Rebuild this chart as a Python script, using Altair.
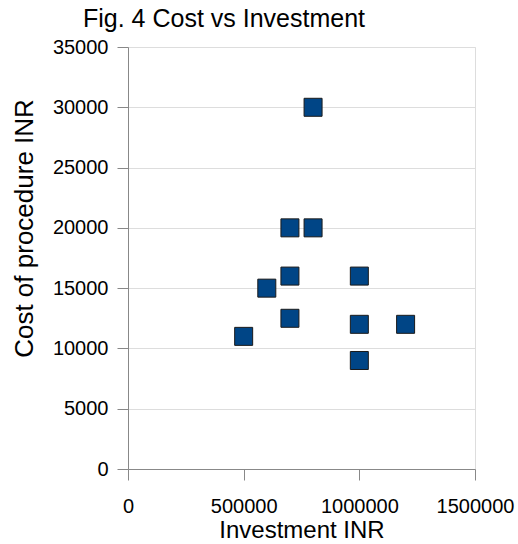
import altair as alt
import pandas as pd

# Investment (INR) and cost of procedure (INR) per facility
investment = [500000, 600000, 700000, 700000, 700000, 800000, 800000,
              1000000, 1000000, 1000000, 1200000]
cost = [11000, 15000, 20000, 16000, 12500, 30000, 20000,
        16000, 12000, 9000, 12000]

x_ticks = [0, 500000, 1000000, 1500000]
y_ticks = [0, 5000, 10000, 15000, 20000, 25000, 30000, 35000]

df = pd.DataFrame({"investment": investment, "cost": cost})

FONT = "Liberation Sans"
GRID = "#b3b3b3"

chart = (
    alt.Chart(df)
    .mark_point(shape="square", filled=True, size=324, fill="#004586",
                stroke="#1a1a1a", strokeWidth=1, opacity=1)
    .encode(
        x=alt.X("investment:Q",
                scale=alt.Scale(domain=[0, 1500000], nice=False),
                axis=alt.Axis(title="Investment INR", values=x_ticks,
                              format="d", grid=False, tickSize=11, labelPadding=16,
                              titlePadding=2, labelFontSize=20, titleFontSize=24,
                              titleFontWeight="normal", labelFlush=False,
                              labelOverlap=False)),
        y=alt.Y("cost:Q",
                scale=alt.Scale(domain=[0, 35000], nice=False),
                axis=alt.Axis(title="Cost of procedure INR", values=y_ticks,
                              format="d", grid=True, tickSize=11, labelPadding=9,
                              labelFontSize=20, titleFontSize=26,
                              titleFontWeight="normal", labelOverlap=False,
                              labelFlush=False,
                              titleX=-104, titleY=181, titleAlign="center",
                              titleBaseline="middle", titleAngle=-90)),
    )
    .properties(
        width=347,
        height=422,
        title=alt.TitleParams("Fig. 4 Cost vs Investment", anchor="start", frame="group",
                              dx=-45, dy=34, baseline="alphabetic", offset=19, fontSize=25,
                              font=FONT, fontWeight="normal", color="#000000"),
        autosize=alt.AutoSizeParams(type="none"),
        padding={"left": 128, "top": 47, "right": 43, "bottom": 75},
    )
    .configure_view(stroke=GRID, strokeWidth=1)
    .configure_axis(
        domainColor=GRID, tickColor=GRID, gridColor=GRID, gridOpacity=1,
        labelFont=FONT, titleFont=FONT, labelColor="#000000", titleColor="#000000",
    )
    .configure(background="white")
)

chart.save("out.html", embed_options={"renderer": "svg", "actions": False})
